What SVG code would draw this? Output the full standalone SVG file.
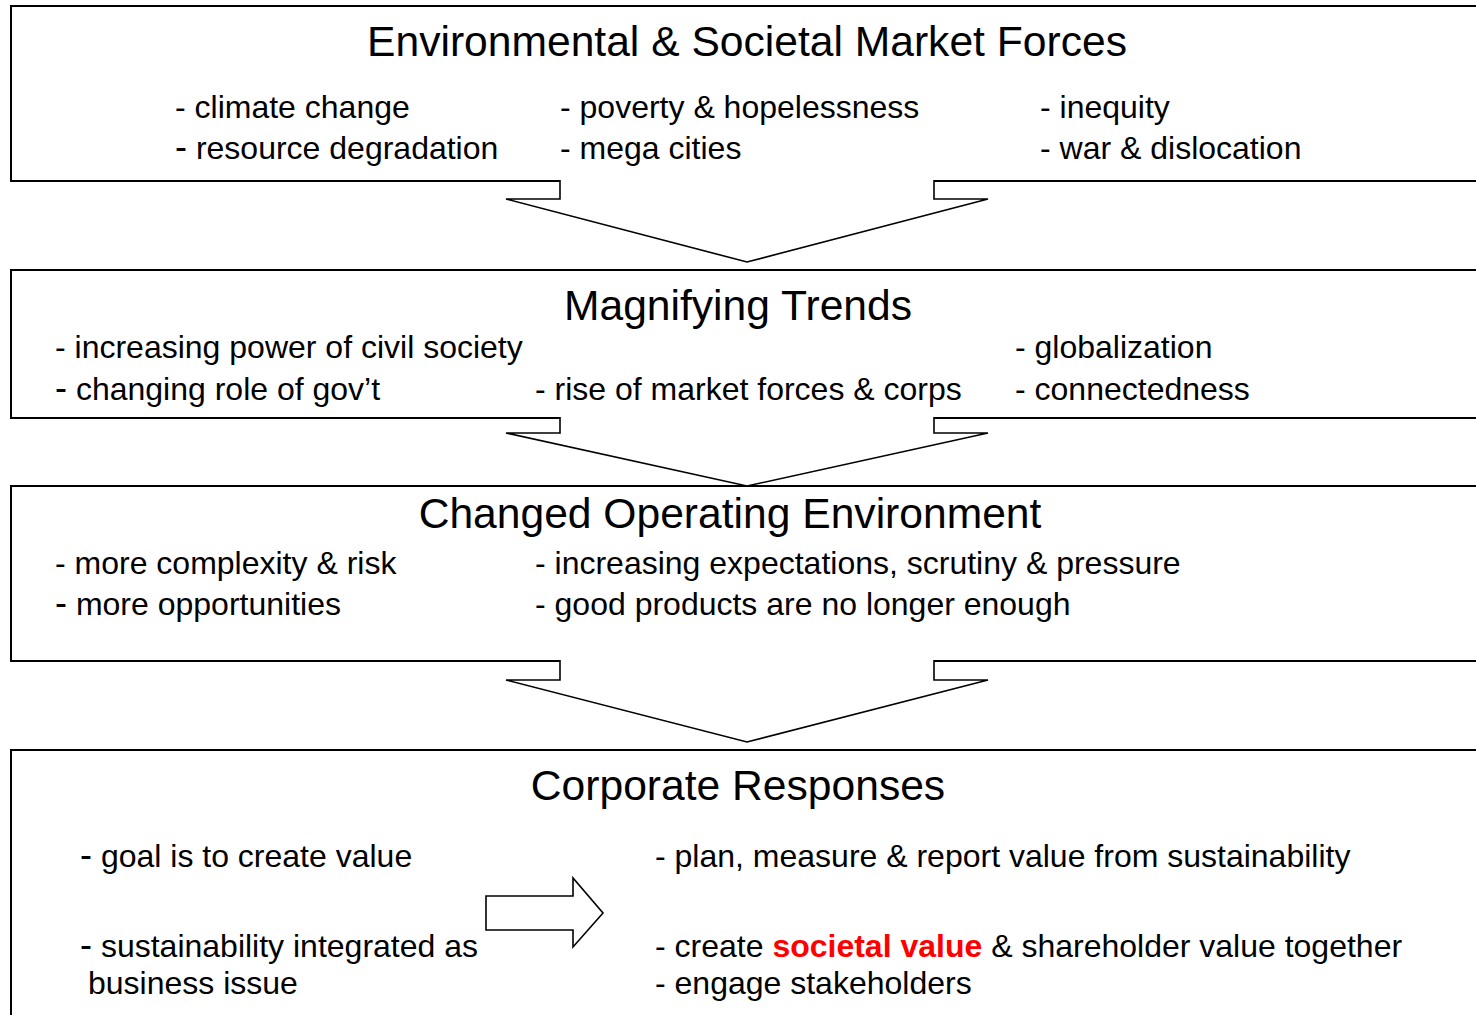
<svg xmlns="http://www.w3.org/2000/svg" width="1476" height="1015" viewBox="0 0 1476 1015">
<style>
.box{fill:#fff;stroke:#000;stroke-width:2}
.arr{fill:#fff;stroke:#000;stroke-width:1.6;stroke-linejoin:miter}
text{font-family:"Liberation Sans",Arial,sans-serif;fill:#000}
.t{font-size:42.6px;text-anchor:middle}
.b{font-size:32px}
.d{font-size:36px}
.red{fill:#ff0000;font-weight:bold}
</style>
<rect width="1476" height="1015" fill="#fff"/>
<g id="forces">
<rect class="box" x="11" y="6" width="1480" height="175"/>
<text class="t" x="747" y="56">Environmental &amp; Societal Market Forces</text>
<text class="b" x="175" y="118">- climate change</text>
<text class="b" x="175" y="159"><tspan class="d">-</tspan> resource degradation</text>
<text class="b" x="560" y="118">- poverty &amp; hopelessness</text>
<text class="b" x="560" y="159">- mega cities</text>
<text class="b" x="1040" y="118">- inequity</text>
<text class="b" x="1040" y="159">- war &amp; dislocation</text>
</g>
<g id="trends">
<rect class="box" x="11" y="270" width="1480" height="148"/>
<text class="t" x="738" y="320">Magnifying Trends</text>
<text class="b" x="55" y="358">- increasing power of civil society</text>
<text class="b" x="55" y="400"><tspan class="d">-</tspan> changing role of gov’t</text>
<text class="b" x="535" y="400">- rise of market forces &amp; corps</text>
<text class="b" x="1015" y="358">- globalization</text>
<text class="b" x="1015" y="400">- connectedness</text>
</g>
<g id="environment">
<rect class="box" x="11" y="486" width="1480" height="175"/>
<text class="t" x="730" y="528">Changed Operating Environment</text>
<text class="b" x="55" y="574">- more complexity &amp; risk</text>
<text class="b" x="55" y="615"><tspan class="d">-</tspan> more opportunities</text>
<text class="b" x="535" y="574">- increasing expectations, scrutiny &amp; pressure</text>
<text class="b" x="535" y="615">- good products are no longer enough</text>
</g>
<g id="responses">
<rect class="box" x="11" y="750" width="1480" height="300"/>
<text class="t" x="738" y="800">Corporate Responses</text>
<text class="b" x="80" y="867"><tspan class="d">-</tspan> goal is to create value</text>
<text class="b" x="80" y="957"><tspan class="d">-</tspan> sustainability integrated as</text>
<text class="b" x="88" y="994">business issue</text>
<text class="b" x="655" y="867">- plan, measure &amp; report value from sustainability</text>
<text class="b" x="655" y="957">- create <tspan class="red">societal value</tspan> &amp; shareholder value together</text>
<text class="b" x="655" y="994">- engage stakeholders</text>
</g>
<g id="connectors">
<path class="arr" d="M560,180 V199 H506 L747,262 L988,199 H934 V180"/>
<path class="arr" d="M560,417 V433 H506 L747,486 L988,433 H934 V417"/>
<path class="arr" d="M560,660 V680 H506 L747,742 L988,680 H934 V660"/>
<polygon class="arr" points="486,896 573,896 573,878 603,913 573,947 573,930 486,930"/>
</g>
</svg>
